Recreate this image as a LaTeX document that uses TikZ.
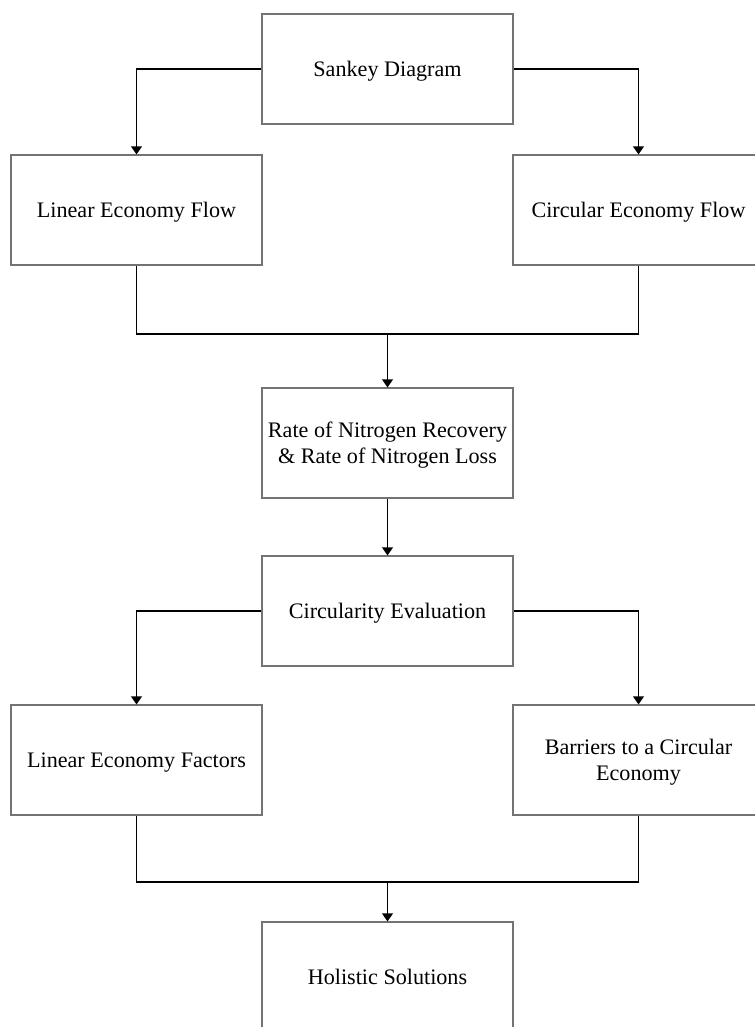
\documentclass[tikz,border=0pt]{standalone}
\usepackage{fontspec}
\setmainfont{Liberation Serif}
\usetikzlibrary{arrows.meta}
\begin{document}
\begin{tikzpicture}[x=0.75pt,y=-0.75pt,
  box/.style={draw=black!55,line width=0.8pt,fill=white,rectangle,minimum width=188.25pt,minimum height=82.5pt,inner sep=0pt,align=center,font=\fontsize{16.6}{19.5}\selectfont,text depth=0pt},
  conn/.style={draw=black,line width=1.1pt},
  arr/.style={conn,-{Triangle[width=8pt,length=6pt]}}]
\useasboundingbox (0,0) rectangle (755,1027);
\clip (0,0) rectangle (755,1027);
\fill[white] (0,0) rectangle (755,1027);
\node[box] (sankey) at (387.5,69) {Sankey Diagram};
\node[box] (lin) at (136.5,210) {Linear Economy Flow};
\node[box] (circ) at (638.5,210) {Circular Economy Flow};
\node[box] (rate) at (387.5,443) {Rate of Nitrogen Recovery\\\& Rate of Nitrogen Loss};
\node[box] (eval) at (387.5,611) {Circularity Evaluation};
\node[box] (fac) at (136.5,760) {Linear Economy Factors};
\node[box] (bar) at (638.5,760) {Barriers to a Circular\\Economy};
\node[box] (hol) at (387.5,977) {Holistic Solutions};
\coordinate (m1) at (387.5,334);
\coordinate (m2) at (387.5,882);
\draw[arr] (sankey.west) -| (lin.north);
\draw[arr] (sankey.east) -| (circ.north);
\draw[conn] (lin.south) |- (m1) -| (circ.south);
\draw[arr] (m1) -- (rate.north);
\draw[arr] (rate.south) -- (eval.north);
\draw[arr] (eval.west) -| (fac.north);
\draw[arr] (eval.east) -| (bar.north);
\draw[conn] (fac.south) |- (m2) -| (bar.south);
\draw[arr] (m2) -- (hol.north);
\end{tikzpicture}
\end{document}
